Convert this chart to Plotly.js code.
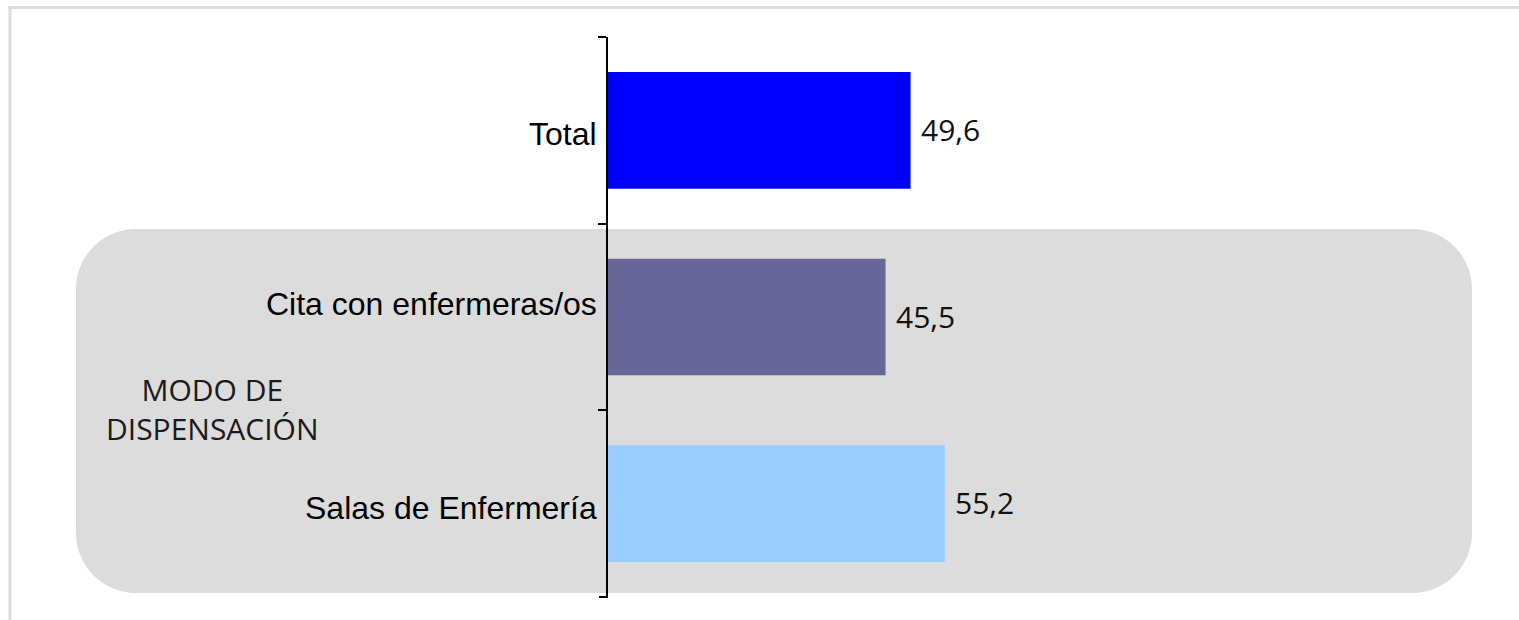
<!DOCTYPE html>
<html>
<head>
<meta charset="utf-8">
<script src="https://cdn.plot.ly/plotly-3.0.1.min.js"></script>
<style>html,body{margin:0;padding:0;background:#fff;}#chart{width:1519px;height:620px;}</style>
</head>
<body>
<div id="chart"></div>
<script>
// Data
const categories = ["Total", "Cita con enfermeras/os", "Salas de Enfermería"];
const values = [49.6, 45.5, 55.2];
const barColors = ["#0000FF", "#666699", "#99CCFF"];
const groupLabel = "MODO DE<br>DISPENSACIÓN";

// Layout geometry (pixels)
const W = 1519, H = 620;
const L = 608, T = 37, B = 23, R = 301;
const plotW = W - L - R, plotH = H - T - B;
const px = x => (x - L) / plotW;
const py = y => (H - B - y) / plotH;
// per-label vertical nudge (style only)
const labelShift = [-4, 13, -4];

function roundedRect(x0, y0, x1, y1, r) {
  const k = 0.5523 * r;
  const P = (x, y) => px(x).toFixed(5) + "," + py(y).toFixed(5);
  return "M" + P(x0 + r, y0) +
    " L" + P(x1 - r, y0) +
    " C" + P(x1 - r + k, y0) + " " + P(x1, y0 + r - k) + " " + P(x1, y0 + r) +
    " L" + P(x1, y1 - r) +
    " C" + P(x1, y1 - r + k) + " " + P(x1 - r + k, y1) + " " + P(x1 - r, y1) +
    " L" + P(x0 + r, y1) +
    " C" + P(x0 + r - k, y1) + " " + P(x0, y1 - r + k) + " " + P(x0, y1 - r) +
    " L" + P(x0, y0 + r) +
    " C" + P(x0, y0 + r - k) + " " + P(x0 + r - k, y0) + " " + P(x0 + r, y0) + " Z";
}

const fmt = v => v.toFixed(1).replace(".", ",");

const trace = {
  type: "bar",
  orientation: "h",
  y: categories,
  x: values,
  marker: { color: barColors, line: { width: 0 } },
  width: 0.625,
  hoverinfo: "skip"
};

const annotations = values.map((v, i) => ({
  x: v, y: categories[i], xref: "x", yref: "y",
  text: fmt(v), showarrow: false, xanchor: "left", yanchor: "middle",
  xshift: 8, yshift: 1,
  font: { family: "Open Sans", size: 30, color: "#111111" }
}));
categories.forEach((c, i) => annotations.push({
  x: 0, y: c, xref: "x", yref: "y",
  text: c, showarrow: false, xanchor: "right", yanchor: "middle",
  xshift: -9, yshift: labelShift[i],
  font: { family: "Liberation Sans, Arial", size: 32, color: "#000000" }
}));
annotations.push({
  x: px(213), y: py(409), xref: "paper", yref: "paper",
  text: groupLabel, showarrow: false, xanchor: "center", yanchor: "middle",
  align: "center",
  font: { family: "Open Sans", size: 30, color: "#1a1a1a" }
});

const layout = {
  width: W, height: H,
  margin: { l: L, r: R, t: T, b: B, pad: 0 },
  paper_bgcolor: "#ffffff",
  plot_bgcolor: "rgba(0,0,0,0)",
  showlegend: false,
  xaxis: {
    range: [0, 100], visible: false, showgrid: false, zeroline: false, fixedrange: true
  },
  yaxis: {
    type: "category",
    categoryorder: "array", categoryarray: categories,
    range: [2.5, -0.5],
    showline: true, linecolor: "#000000", linewidth: 2,
    ticks: "outside", tickson: "boundaries", ticklen: 8, tickwidth: 2, tickcolor: "#000000",
    showticklabels: false,
    showgrid: false, zeroline: false,
    automargin: false
  },
  shapes: [
    { type: "path", xref: "paper", yref: "paper", layer: "below",
      path: roundedRect(76, 229, 1472, 593, 60),
      fillcolor: "#dcdcdc", line: { width: 0 } },
    { type: "line", xref: "paper", yref: "paper", layer: "below",
      x0: px(8), x1: px(1519), y0: py(7.5), y1: py(7.5),
      line: { color: "#dcdcdc", width: 3 } },
    { type: "line", xref: "paper", yref: "paper", layer: "below",
      x0: px(10), x1: px(10), y0: py(6), y1: py(620),
      line: { color: "#dcdcdc", width: 3 } },
    { type: "line", xref: "paper", yref: "paper", layer: "above",
      x0: px(599), x1: px(608), y0: 0, y1: 0,
      line: { color: "#000000", width: 2 } }
  ],
  annotations: annotations
};

Plotly.newPlot("chart", [trace], layout, { displayModeBar: false, staticPlot: true });
</script>
</body>
</html>
